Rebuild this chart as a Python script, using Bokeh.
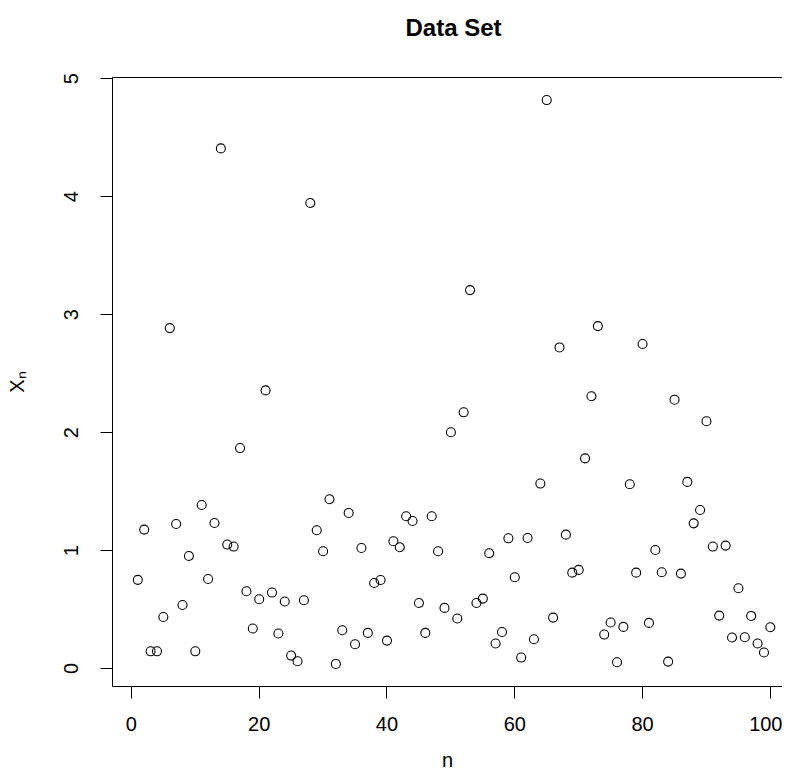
from bokeh.plotting import figure
from bokeh.models import FixedTicker, Range1d, LinearAxis, Title
from bokeh.embed import file_html
from bokeh.resources import INLINE

n_vals = list(range(1, 101))
x_vals = [
    0.752, 1.178, 0.146, 0.146, 0.437, 2.886, 1.225, 0.539, 0.954, 0.146,
    1.386, 0.759, 1.234, 4.409, 1.051, 1.034, 1.869, 0.655, 0.339, 0.587,
    2.358, 0.644, 0.297, 0.568, 0.110, 0.062, 0.579, 3.946, 1.172, 0.994,
    1.435, 0.039, 0.325, 1.319, 0.206, 1.022, 0.302, 0.725, 0.751, 0.237,
    1.079, 1.028, 1.291, 1.251, 0.556, 0.302, 1.291, 0.994, 0.514, 2.003,
    0.424, 2.172, 3.208, 0.556, 0.593, 0.977, 0.212, 0.310, 1.104, 0.774,
    0.093, 1.107, 0.248, 1.568, 4.819, 0.432, 2.722, 1.135, 0.813, 0.836,
    1.782, 2.308, 2.903, 0.288, 0.390, 0.053, 0.353, 1.562, 0.813, 2.751,
    0.387, 1.005, 0.816, 0.059, 2.279, 0.805, 1.582, 1.231, 1.344, 2.096,
    1.034, 0.449, 1.042, 0.263, 0.681, 0.265, 0.446, 0.212, 0.136, 0.350,
]
x_ticks = [0, 20, 40, 60, 80, 100]
y_ticks = [0, 1, 2, 3, 4, 5]
title_text = "Data Set"

FONT = "Liberation Sans"

ymin, ymax = min(x_vals), max(x_vals)
ypad = 0.04 * (ymax - ymin)
y_lo, y_top = ymin - ypad, ymax + ypad

p = figure(
    width=782, height=775,
    output_backend="svg", toolbar_location=None,
    x_range=Range1d(1 - 0.04 * 99, 101.9),
    y_range=Range1d(y_lo, y_top),
    min_border_left=112, min_border_right=0,
    min_border_top=77, min_border_bottom=89,
)
p.outline_line_color = None
p.background_fill_color = "white"
p.border_fill_color = "white"
p.xgrid.visible = False
p.ygrid.visible = False

p.scatter(n_vals, x_vals, marker="circle", size=9, fill_color=None,
          line_color="black", line_width=1.1)

for ax in (p.xaxis[0], p.yaxis[0]):
    ax.major_tick_out = 12
    ax.major_tick_in = 0
    ax.minor_tick_line_color = None
    ax.major_tick_line_color = "black"
    ax.axis_line_color = "black"
    ax.major_label_text_font = FONT
    ax.major_label_text_font_size = "20px"
    ax.major_label_text_color = "black"
    ax.axis_label_text_font = FONT
    ax.axis_label_text_font_size = "20px"
    ax.axis_label_text_font_style = "normal"
    ax.axis_label_text_color = "black"

p.xaxis.ticker = FixedTicker(ticks=x_ticks)
p.yaxis.ticker = FixedTicker(ticks=y_ticks)
p.xaxis.axis_label = "n"
p.yaxis.axis_label = "X\u2099"
p.xaxis.major_label_standoff = 18
p.xaxis.axis_label_standoff = 15
p.yaxis.major_label_standoff = 22
p.yaxis.axis_label_standoff = 34
p.yaxis.major_label_orientation = "vertical"

# top edge of the plot box (an axis line with no ticks / labels)
top = LinearAxis(ticker=FixedTicker(ticks=[]), major_label_text_font_size="0px",
                 major_label_standoff=0, major_tick_in=0, major_tick_out=0,
                 major_tick_line_color=None, minor_tick_line_color=None,
                 axis_line_color="black")
p.add_layout(top, "above")

# blank spacer between the box and the title
p.add_layout(Title(text=" ", standoff=6, text_font=FONT,
                   text_font_size="24px"), "above")

# main title, above the spacer
p.add_layout(Title(text=title_text, align="left", offset=293, standoff=4,
                   text_font=FONT, text_font_size="24px",
                   text_font_style="bold", text_color="black"), "above")

open("out.html", "w").write(file_html(p, INLINE))
